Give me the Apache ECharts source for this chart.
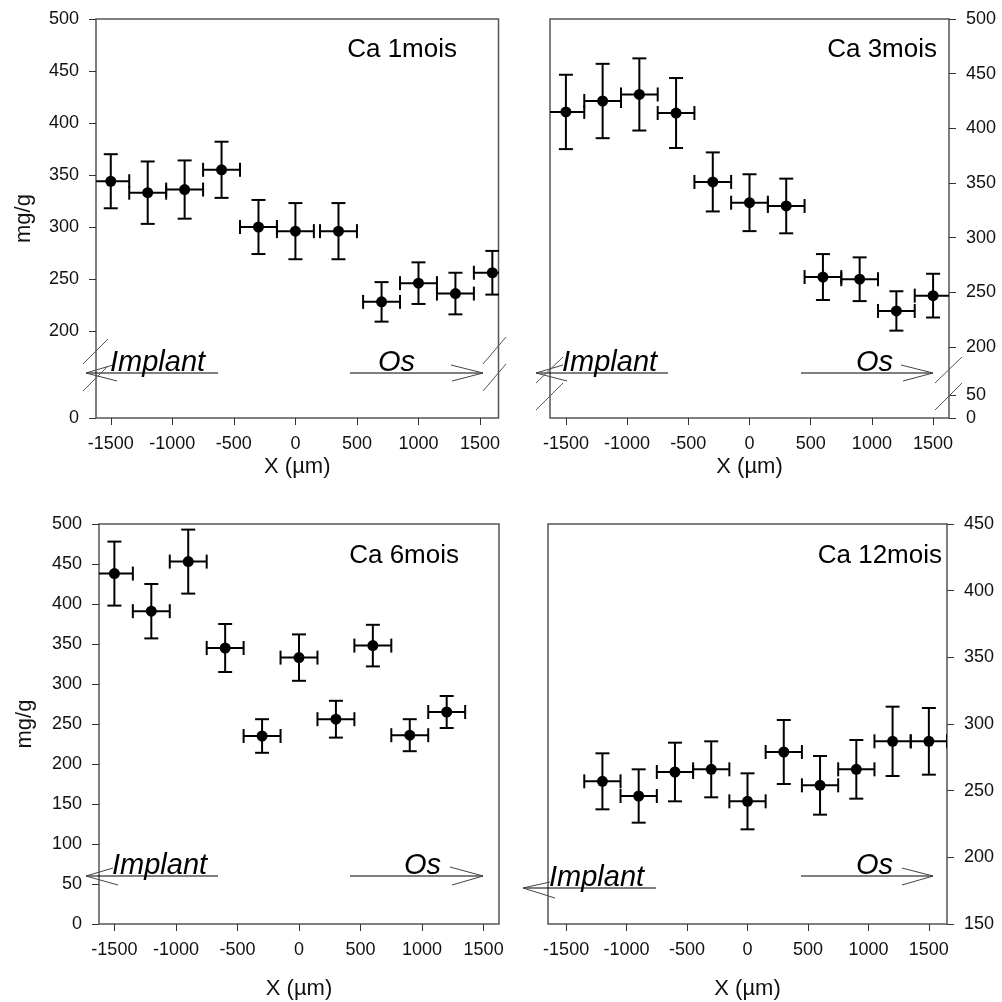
<!DOCTYPE html>
<html><head><meta charset="utf-8">
<script src="https://cdn.jsdelivr.net/npm/echarts@6/dist/echarts.min.js"></script>
<style>html,body{margin:0;padding:0;background:#fff}#c{width:1002px;height:1002px}</style>
</head><body><div id="c"></div>
<script>
// ---------- data ----------
const titles = ['Ca 1mois', 'Ca 3mois', 'Ca 6mois', 'Ca 12mois'];
const xTicks = [-1500, -1000, -500, 0, 500, 1000, 1500];

const x1  = [-1500, -1200, -900, -600, -300, 0, 350, 700, 1000, 1300, 1600];
const y1  = [344, 333, 336, 355, 300, 296, 296, 228, 246, 236, 256];
const ey1 = [26, 30, 28, 27, 26, 27, 27, 19, 20, 20, 21];
const ex1 = [150, 150, 150, 150, 150, 150, 150, 150, 150, 150, 150];

const x2  = [-1500, -1200, -900, -600, -300, 0, 300, 600, 900, 1200, 1500];
const y2  = [415, 425, 431, 414, 351, 332, 329, 264, 262, 233, 247];
const ey2 = [34, 34, 33, 32, 27, 26, 25, 21, 20, 18, 20];
const ex2 = [150, 150, 150, 150, 150, 150, 150, 150, 150, 150, 150];

const x3  = [-1500, -1200, -900, -600, -300, 0, 300, 600, 900, 1200];
const y3  = [438, 391, 453, 345, 235, 333, 256, 348, 236, 265];
const ey3 = [40, 34, 40, 30, 21, 29, 23, 26, 20, 20];
const ex3 = [150, 150, 150, 150, 150, 150, 150, 150, 150, 150];

const x4  = [-1200, -900, -600, -300, 0, 300, 600, 900, 1200, 1500];
const y4  = [257, 246, 264, 266, 242, 279, 254, 266, 287, 287];
const ey4 = [21, 20, 22, 21, 21, 24, 22, 22, 26, 25];
const ex4 = [150, 150, 150, 150, 150, 150, 150, 150, 150, 150];

const yTicksUpper = [200, 250, 300, 350, 400, 450, 500];
const yTicksLow1 = [0];
const yTicksLow2 = [0, 50];
const yTicks3 = [0, 50, 100, 150, 200, 250, 300, 350, 400, 450, 500];
const yTicks4 = [150, 200, 250, 300, 350, 400, 450];

// ---------- helpers ----------
const FONT = '"Liberation Sans", Arial, Helvetica, sans-serif';
function rows(xs, ys, exs, eys) { return xs.map((x, i) => [x, ys[i], exs[i], eys[i]]); }

function errRender(params, api) {
  const x = api.value(0), y = api.value(1), ex = api.value(2), ey = api.value(3);
  const c = api.coord([x, y]);
  const t = api.coord([x, y + ey]), b = api.coord([x, y - ey]);
  const l = api.coord([x - ex, y]), r = api.coord([x + ex, y]);
  const h = 7;
  const st = { stroke: '#000', lineWidth: 2, fill: null };
  const ln = (x1, y1, x2, y2) => ({ type: 'line', shape: { x1, y1, x2, y2 }, style: st });
  return {
    type: 'group',
    children: [
      ln(t[0], t[1], b[0], b[1]),
      ln(t[0] - h, t[1], t[0] + h, t[1]),
      ln(b[0] - h, b[1], b[0] + h, b[1]),
      ln(l[0], l[1], r[0], r[1]),
      ln(l[0], l[1] - h, l[0], l[1] + h),
      ln(r[0], r[1] - h, r[0], r[1] + h),
      { type: 'circle', shape: { cx: c[0], cy: c[1], r: 5.5 }, style: { fill: '#000' } }
    ]
  };
}

const tickStyle = { show: true, inside: false, length: 7, lineStyle: { color: '#333', width: 1 } };
const lblStyle = { color: '#111', fontSize: 18, fontFamily: FONT, formatter: v => String(v) };
const nameStyle = { color: '#111', fontSize: 22, fontFamily: FONT };
const noLine = { show: false, onZero: false };

function xAxisVis(grid, min, max, gap) {
  return {
    gridIndex: grid, type: 'value', min, max, position: 'bottom',
    axisLine: noLine, splitLine: { show: false },
    axisTick: Object.assign({ customValues: xTicks }, tickStyle),
    axisLabel: Object.assign({ customValues: xTicks, margin: 17 }, lblStyle),
    name: 'X (µm)', nameLocation: 'middle', nameGap: gap, nameTextStyle: nameStyle
  };
}
function xAxisHidden(grid, min, max) {
  return { gridIndex: grid, type: 'value', min, max, show: false, axisLine: noLine };
}
function yAxisVis(grid, min, max, ticks, pos) {
  return {
    gridIndex: grid, type: 'value', min, max, position: pos,
    axisLine: noLine, splitLine: { show: false },
    axisTick: Object.assign({ customValues: ticks }, tickStyle),
    axisLabel: Object.assign({ customValues: ticks, margin: 17 }, lblStyle)
  };
}
function frameY(grid, name, gap) {
  return {
    gridIndex: grid, type: 'value', min: 0, max: 1, show: !!name, position: 'left',
    axisLine: noLine, axisTick: { show: false }, axisLabel: { show: false }, splitLine: { show: false },
    name: name || '', nameLocation: 'middle', nameGap: gap || 0, nameTextStyle: nameStyle
  };
}
const frameStyle = { show: true, borderColor: '#555', borderWidth: 1.5, backgroundColor: 'transparent' };
function g(left, top, width, height, frame) {
  return Object.assign({ left, top, width, height, outerBoundsMode: 'none', containLabel: false }, frame ? frameStyle : { show: false });
}

// ---------- layout ----------
const grids = [
  g(96, 19, 402.5, 399, true),     // 0 frame P1
  g(96, 19, 402.5, 346, false),    // 1 P1 upper
  g(96, 365, 402.5, 53, false),    // 2 P1 lower
  g(550, 19, 399, 399, true),      // 3 frame P2
  g(550, 19, 399, 364, false),     // 4 P2 upper
  g(550, 383, 399, 35, false),     // 5 P2 lower
  g(99, 524, 400, 400, true),      // 6 P3
  g(548, 524, 399, 400, true)      // 7 P4
];

const xAxes = [
  xAxisHidden(0, 0, 1),
  xAxisHidden(1, -1620, 1650),
  xAxisVis(2, -1620, 1650, 38),
  xAxisHidden(3, 0, 1),
  xAxisHidden(4, -1630, 1630),
  xAxisVis(5, -1630, 1630, 38),
  xAxisVis(6, -1625, 1625, 54),
  xAxisVis(7, -1650, 1650, 54)
];
const yAxes = [
  frameY(0, 'mg/g', 61),
  yAxisVis(1, 167.3, 500, yTicksUpper, 'left'),
  yAxisVis(2, 0, 40, yTicksLow1, 'left'),
  frameY(3, '', 0),
  yAxisVis(4, 167.1, 500, yTicksUpper, 'right'),
  yAxisVis(5, 0, 76, yTicksLow2, 'right'),
  Object.assign(yAxisVis(6, 0, 500, yTicks3, 'left'),
    { name: 'mg/g', nameLocation: 'middle', nameGap: 63, nameTextStyle: nameStyle }),
  yAxisVis(7, 150, 450, yTicks4, 'right')
];

function errSeries(idx, data) {
  return { type: 'custom', xAxisIndex: idx, yAxisIndex: idx, data, renderItem: errRender,
    clip: true, silent: true, dimensions: ['x', 'y', 'ex', 'ey'], encode: { x: 0, y: 1 } };
}
const series = [
  errSeries(1, rows(x1, y1, ex1, ey1)),
  errSeries(4, rows(x2, y2, ex2, ey2)),
  errSeries(6, rows(x3, y3, ex3, ey3)),
  errSeries(7, rows(x4, y4, ex4, ey4))
];

// ---------- annotations ----------
const gr = [];
function line(x1, y1, x2, y2, color, w) {
  gr.push({ type: 'line', shape: { x1, y1, x2, y2 }, style: { stroke: color, lineWidth: w }, silent: true, z: 10 });
}
function text(str, x, y, size, align, italic) {
  gr.push({ type: 'text', x, y, style: { text: str, fontSize: size, fontFamily: FONT,
    fontStyle: italic ? 'italic' : 'normal', fill: '#000', align, verticalAlign: 'middle' }, silent: true, z: 10 });
}
function leftArrow(tip, y, end, by1, by2, bx1, bx2) {
  line(tip, y, end, y, '#000', 1);
  line(tip, y, bx1, by1, '#444', 1);
  line(tip, y, bx2, by2, '#444', 1);
}
function rightArrow(start, y, tip, bx1, by1, bx2, by2) {
  line(start, y, tip, y, '#000', 1);
  line(tip, y, bx1, by1, '#444', 1);
  line(tip, y, bx2, by2, '#444', 1);
}
// titles
text(titles[0], 457, 49.5, 26, 'right');
text(titles[1], 937, 49.5, 26, 'right');
text(titles[2], 459, 555.5, 26, 'right');
text(titles[3], 942, 555.5, 26, 'right');
// panel 1
leftArrow(86, 373, 218, 365, 381, 113, 117);
rightArrow(350, 373, 483, 451, 365, 452, 381);
text('Implant', 110, 362.5, 29, 'left', true);
text('Os', 378, 362.5, 29, 'left', true);
line(83, 364, 108, 339, '#555', 1); line(83, 391, 108, 366, '#555', 1);
line(483, 364, 506, 337, '#555', 1); line(483, 391, 506, 364, '#555', 1);
// panel 2
leftArrow(536, 373, 668, 365, 381, 563, 567);
rightArrow(801, 373, 933, 901, 365, 903, 381);
text('Implant', 562, 362.5, 29, 'left', true);
text('Os', 856, 362.5, 29, 'left', true);
line(536, 383, 563, 357, '#555', 1); line(536, 410, 563, 383, '#555', 1);
line(935, 383, 962, 357, '#555', 1); line(935, 410, 962, 383, '#555', 1);
// panel 3
leftArrow(86, 876, 218, 868, 885, 113, 118);
rightArrow(350, 876, 483, 450, 867, 452, 885);
text('Implant', 112, 865.5, 29, 'left', true);
text('Os', 404, 866, 29, 'left', true);
// panel 4
leftArrow(523, 888, 656, 882, 898, 550, 555);
rightArrow(801, 876, 933, 902, 868, 902, 885);
text('Implant', 549, 877.5, 29, 'left', true);
text('Os', 856, 865.5, 29, 'left', true);

const chart = echarts.init(document.getElementById('c'), null, { renderer: 'canvas' });
chart.setOption({
  animation: false,
  backgroundColor: '#fff',
  textStyle: { fontFamily: FONT },
  grid: grids,
  xAxis: xAxes,
  yAxis: yAxes,
  series,
  graphic: gr
});
</script></body></html>
